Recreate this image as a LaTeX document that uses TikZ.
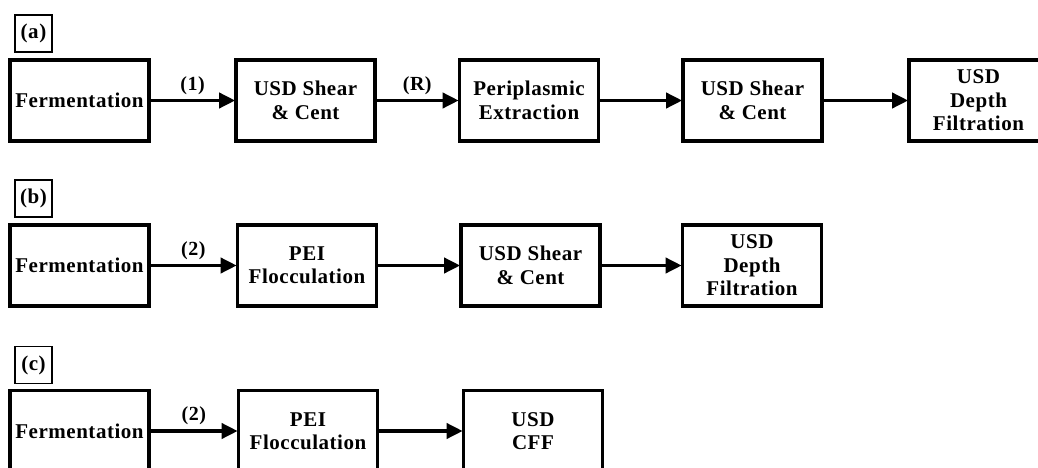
\documentclass[tikz,border=0pt]{standalone}
\usepackage{fontspec}
\setmainfont{Liberation Serif}[LetterSpace=2.5]
\usetikzlibrary{arrows.meta}
\tikzset{
  stepbox/.style={draw=black, line width=3.6pt, minimum width=139pt, minimum height=81pt,
    inner sep=0pt, align=center, font=\fontsize{21}{23.5}\selectfont\bfseries},
  tagbox/.style={draw=black, line width=1.8pt, minimum width=37pt, minimum height=37pt,
    inner sep=0pt, font=\fontsize{21}{23}\selectfont\bfseries},
  flow/.style={line width=3.6pt, -{Triangle[length=16pt,width=15pt]}, shorten >=-1pt},
  flowlabel/.style={font=\fontsize{20}{22}\selectfont\bfseries, above=3pt, midway, inner sep=1pt}
}
\begin{document}
\begin{tikzpicture}[x=1pt,y=-1pt]
\useasboundingbox (0,0) rectangle (1038,468);
\clip (0,0) rectangle (1038,468);
% row (a)
\node[tagbox] (ta) at (33.5,33.5) {(a)};
\node[stepbox] (a1) at (79.5,100.5) {Fermentation};
\node[stepbox] (a2) at (305.5,100.5) {USD Shear\\\& Cent};
\node[stepbox] (a3) at (529,100.5) {Periplasmic\\Extraction};
\node[stepbox] (a4) at (752.5,100.5) {USD Shear\\\& Cent};
\node[stepbox] (a5) at (978.5,100.5) {USD\\Depth\\Filtration};
\draw[flow] (a1) -- node[flowlabel] {(1)} (a2);
\draw[flow] (a2) -- node[flowlabel] {(R)} (a3);
\draw[flow] (a3) -- (a4);
\draw[flow] (a4) -- (a5);
% row (b)
\node[tagbox] (tb) at (33.5,198.5) {(b)};
\node[stepbox] (b1) at (79.5,265.5) {Fermentation};
\node[stepbox] (b2) at (307,265.5) {PEI\\Flocculation};
\node[stepbox] (b3) at (530.5,265.5) {USD Shear\\\& Cent};
\node[stepbox] (b4) at (752,265.5) {USD\\Depth\\Filtration};
\draw[flow] (b1) -- node[flowlabel] {(2)} (b2);
\draw[flow] (b2) -- (b3);
\draw[flow] (b3) -- (b4);
% row (c)
\node[tagbox] (tc) at (33.5,365) {(c)};
\node[stepbox] (c1) at (79.5,431) {Fermentation};
\node[stepbox] (c2) at (308,431) {PEI\\Flocculation};
\node[stepbox] (c3) at (533,431) {USD\\CFF};
\draw[flow] (c1) -- node[flowlabel] {(2)} (c2);
\draw[flow] (c2) -- (c3);
\end{tikzpicture}
\end{document}
